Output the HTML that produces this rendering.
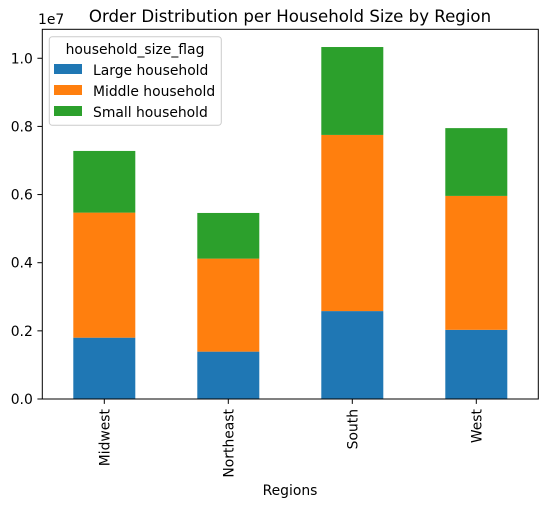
<!DOCTYPE html>
<html><head><meta charset="utf-8">
<style>
html,body{margin:0;padding:0;background:#fff;}
svg{display:block;font-family:"DejaVu Sans","Liberation Sans",sans-serif;}
</style></head>
<body>
<svg id="chart" width="547" height="507" viewBox="0 0 547 507" xmlns="http://www.w3.org/2000/svg">
<rect width="547" height="507" fill="#fff"/>
<text x="290" y="22" font-size="16.6" text-anchor="middle" fill="#000">Order Distribution per Household Size by Region</text>
<text x="38" y="24" font-size="13.9" fill="#000">1e7</text>
<g id="bars"></g>
<g id="yticks"></g>
<g id="xticks"></g>
<rect x="42.3" y="29.3" width="496" height="369.7" fill="none" stroke="#000" stroke-width="1"/>
<text x="290" y="495" font-size="13.9" text-anchor="middle" fill="#000">Regions</text>
<g>
<rect x="49.3" y="36.7" width="172" height="88.6" rx="3" fill="#fff" fill-opacity="0.8" stroke="#ccc"/>
<text x="135" y="54" font-size="13.9" text-anchor="middle" fill="#000">household_size_flag</text>
<rect x="54" y="64" width="28" height="10" fill="#1f77b4"/>
<text x="93" y="75" font-size="13.9" fill="#000">Large household</text>
<rect x="54" y="85" width="28" height="10" fill="#ff7f0e"/>
<text x="93" y="96" font-size="13.9" fill="#000">Middle household</text>
<rect x="54" y="106" width="28" height="10" fill="#2ca02c"/>
<text x="93" y="117" font-size="13.9" fill="#000">Small household</text>
</g>
</svg>
<script>
const categories = ["Midwest","Northeast","South","West"];
const largeVals = [1800000,1390000,2580000,2030000];
const middleVals = [3670000,2730000,5170000,3930000];
const smallVals = [1810000,1340000,2580000,1990000];
const yTicks = [0,0.2,0.4,0.6,0.8,1.0];
const yTickLabels = ["0.0","0.2","0.4","0.6","0.8","1.0"];

const NS="http://www.w3.org/2000/svg";
const x0=42.3, x1=538.3, yb=399, yt=29.3, ymax=1.085e7;
const step=(x1-x0)/categories.length;
function xc(i){return x0+step*(i+0.5);}
function ys(v){return yb-(v/ymax)*(yb-yt);}
const bw=62;
const series=[["large",largeVals,"#1f77b4"],["middle",middleVals,"#ff7f0e"],["small",smallVals,"#2ca02c"]];
const gb=document.getElementById("bars");
categories.forEach((c,i)=>{
  let base=0;
  series.forEach(s=>{
    const v=s[1][i];
    const r=document.createElementNS(NS,"rect");
    r.setAttribute("x",xc(i)-bw/2);
    r.setAttribute("y",ys(base+v));
    r.setAttribute("width",bw);
    r.setAttribute("height",ys(base)-ys(base+v));
    r.setAttribute("fill",s[2]);
    
    
    gb.appendChild(r);
    base+=v;
  });
});
const gy=document.getElementById("yticks");
yTicks.forEach((t,k)=>{
  const y=ys(t*1e7);
  const l=document.createElementNS(NS,"line");
  l.setAttribute("x1",x0-4.9);l.setAttribute("x2",x0);l.setAttribute("y1",y);l.setAttribute("y2",y);
  l.setAttribute("stroke","#000");
  
  
  gy.appendChild(l);
  const tx=document.createElementNS(NS,"text");
  tx.setAttribute("x",x0-9.5);tx.setAttribute("y",y+5);
  tx.setAttribute("font-size","13.9");tx.setAttribute("text-anchor","end");
  tx.textContent=yTickLabels[k];
  
  
  gy.appendChild(tx);
});
const gx=document.getElementById("xticks");
categories.forEach((c,i)=>{
  const x=xc(i);
  const l=document.createElementNS(NS,"line");
  l.setAttribute("x1",x);l.setAttribute("x2",x);l.setAttribute("y1",yb);l.setAttribute("y2",yb+4.9);
  l.setAttribute("stroke","#000");
  
  
  gx.appendChild(l);
  const tx=document.createElementNS(NS,"text");
  tx.setAttribute("transform","translate("+(x+5)+","+(yb+10)+") rotate(-90)");
  tx.setAttribute("font-size","13.9");tx.setAttribute("text-anchor","end");
  tx.textContent=c;
  
  
  gx.appendChild(tx);
});
</script>
</body></html>
